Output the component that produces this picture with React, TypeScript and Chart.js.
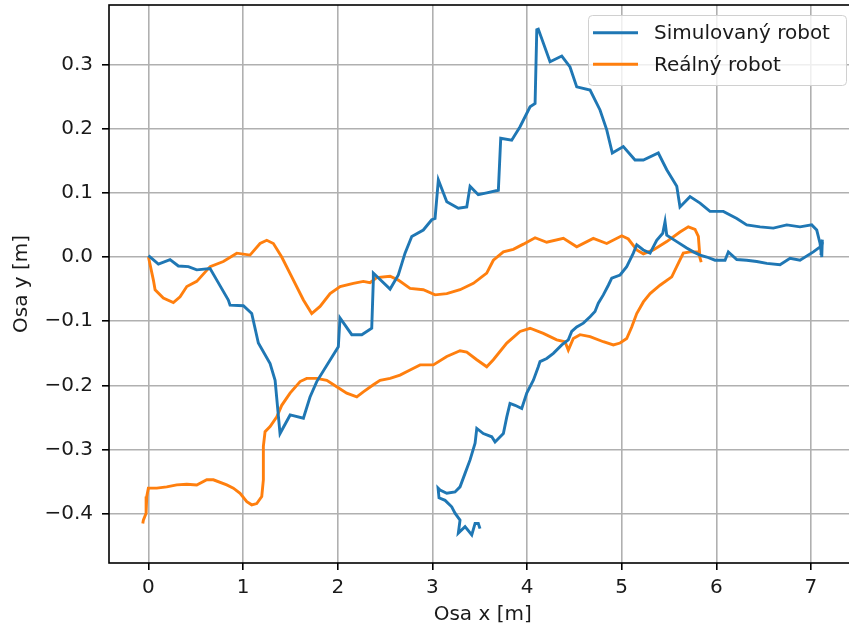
import React, { useEffect, useRef } from 'react';
import { Chart, registerables } from 'chart.js';
Chart.register(...registerables);

const seriesLabels = ['Simulovaný robot', 'Reálný robot'];
const seriesColors = ['#1f77b4', '#ff7f0e'];

const simX = [0.0, 0.105, 0.228, 0.316, 0.422, 0.51, 0.651, 0.722, 0.844, 0.862, 1.003, 1.091, 1.161, 1.285, 1.338, 1.39, 1.497, 1.637, 1.707, 1.778, 2.006, 2.024, 2.148, 2.254, 2.359, 2.376, 2.376, 2.553, 2.64, 2.711, 2.782, 2.904, 2.993, 3.028, 3.063, 3.152, 3.274, 3.363, 3.398, 3.485, 3.574, 3.697, 3.722, 3.838, 3.926, 4.032, 4.085, 4.103, 4.119, 4.243, 4.367, 4.454, 4.525, 4.666, 4.771, 4.842, 4.901, 5.017, 5.141, 5.229, 5.387, 5.476, 5.582, 5.616, 5.722, 5.828, 5.933, 6.074, 6.216, 6.321, 6.462, 6.602, 6.744, 6.884, 7.008, 7.061, 7.096, 7.114, 7.12, 7.105, 7.118, 7.025, 6.884, 6.779, 6.673, 6.533, 6.427, 6.321, 6.216, 6.127, 6.092, 5.986, 5.899, 5.828, 5.757, 5.687, 5.582, 5.476, 5.458, 5.434, 5.37, 5.3, 5.229, 5.159, 5.123, 5.053, 4.983, 4.895, 4.859, 4.806, 4.753, 4.718, 4.666, 4.595, 4.525, 4.472, 4.436, 4.367, 4.278, 4.208, 4.137, 4.119, 4.067, 3.997, 3.944, 3.873, 3.82, 3.786, 3.75, 3.662, 3.627, 3.538, 3.469, 3.451, 3.398, 3.345, 3.292, 3.239, 3.152, 3.081, 3.06, 3.07, 3.134, 3.204, 3.239, 3.292, 3.274, 3.345, 3.416, 3.451, 3.485, 3.503];
const simY = [0.002, -0.011, -0.004, -0.014, -0.015, -0.02, -0.018, -0.036, -0.067, -0.075, -0.076, -0.088, -0.134, -0.166, -0.192, -0.275, -0.246, -0.251, -0.218, -0.194, -0.14, -0.095, -0.121, -0.121, -0.111, -0.036, -0.025, -0.05, -0.028, 0.006, 0.032, 0.042, 0.058, 0.06, 0.12, 0.086, 0.076, 0.078, 0.11, 0.097, 0.1, 0.104, 0.185, 0.182, 0.203, 0.234, 0.239, 0.354, 0.355, 0.304, 0.313, 0.296, 0.265, 0.26, 0.229, 0.198, 0.162, 0.172, 0.151, 0.151, 0.162, 0.136, 0.11, 0.078, 0.094, 0.084, 0.071, 0.071, 0.06, 0.05, 0.047, 0.045, 0.05, 0.047, 0.05, 0.042, 0.021, 0.0, 0.027, 0.003, 0.018, 0.008, -0.005, -0.002, -0.012, -0.01, -0.007, -0.005, -0.004, 0.008, -0.005, -0.005, 0.0, 0.003, 0.008, 0.014, 0.024, 0.034, 0.055, 0.037, 0.026, 0.006, 0.011, 0.019, 0.006, -0.015, -0.028, -0.033, -0.044, -0.059, -0.072, -0.085, -0.093, -0.103, -0.109, -0.116, -0.129, -0.137, -0.15, -0.158, -0.163, -0.171, -0.192, -0.212, -0.236, -0.231, -0.228, -0.249, -0.275, -0.288, -0.28, -0.275, -0.267, -0.29, -0.316, -0.337, -0.358, -0.366, -0.368, -0.363, -0.36, -0.375, -0.379, -0.389, -0.399, -0.41, -0.43, -0.42, -0.433, -0.415, -0.415, -0.423];

const realX = [0.0, 0.052, 0.07, 0.157, 0.263, 0.334, 0.405, 0.51, 0.651, 0.791, 0.933, 1.073, 1.179, 1.25, 1.32, 1.408, 1.514, 1.637, 1.725, 1.813, 1.919, 2.025, 2.165, 2.27, 2.341, 2.412, 2.553, 2.64, 2.764, 2.904, 3.028, 3.152, 3.292, 3.433, 3.574, 3.644, 3.75, 3.855, 3.961, 4.085, 4.208, 4.384, 4.525, 4.7, 4.842, 5.001, 5.07, 5.159, 5.229, 5.334, 5.476, 5.616, 5.704, 5.775, 5.81, 5.828, 5.84, 5.81, 5.722, 5.651, 5.598, 5.529, 5.405, 5.3, 5.229, 5.159, 5.106, 5.053, 4.983, 4.912, 4.806, 4.666, 4.56, 4.489, 4.436, 4.401, 4.314, 4.172, 4.032, 3.926, 3.786, 3.644, 3.574, 3.469, 3.363, 3.292, 3.152, 3.01, 2.87, 2.764, 2.658, 2.553, 2.447, 2.376, 2.27, 2.201, 2.095, 1.989, 1.884, 1.778, 1.672, 1.602, 1.496, 1.408, 1.356, 1.285, 1.232, 1.214, 1.214, 1.197, 1.144, 1.091, 1.039, 0.968, 0.897, 0.827, 0.686, 0.616, 0.51, 0.405, 0.299, 0.193, 0.088, -0.001, -0.018, -0.025, -0.054, -0.06];
const realY = [0.0, -0.036, -0.051, -0.064, -0.071, -0.062, -0.046, -0.038, -0.015, -0.007, 0.006, 0.003, 0.021, 0.026, 0.021, 0.0, -0.031, -0.067, -0.088, -0.077, -0.057, -0.046, -0.041, -0.038, -0.04, -0.032, -0.03, -0.036, -0.049, -0.051, -0.059, -0.057, -0.051, -0.041, -0.025, -0.005, 0.008, 0.012, 0.02, 0.03, 0.023, 0.029, 0.016, 0.029, 0.021, 0.033, 0.028, 0.011, 0.005, 0.011, 0.024, 0.039, 0.047, 0.043, 0.032, -0.002, -0.008, 0.008, 0.008, 0.006, -0.01, -0.031, -0.044, -0.057, -0.07, -0.088, -0.109, -0.127, -0.134, -0.137, -0.132, -0.124, -0.121, -0.127, -0.145, -0.132, -0.129, -0.119, -0.111, -0.116, -0.134, -0.16, -0.171, -0.16, -0.148, -0.146, -0.155, -0.168, -0.168, -0.176, -0.184, -0.189, -0.192, -0.199, -0.21, -0.218, -0.212, -0.202, -0.192, -0.189, -0.189, -0.194, -0.212, -0.231, -0.249, -0.264, -0.272, -0.295, -0.347, -0.373, -0.384, -0.386, -0.381, -0.368, -0.36, -0.355, -0.347, -0.347, -0.355, -0.354, -0.355, -0.358, -0.36, -0.36, -0.373, -0.399, -0.41, -0.415];

const xTicks = [0, 1, 2, 3, 4, 5, 6, 7];
const yTicks = [-0.4, -0.3, -0.2, -0.1, 0.0, 0.1, 0.2, 0.3];
const xLimits = [-0.417, 7.48];
const yLimits = [-0.4766, 0.3925];
const xTitle = 'Osa x [m]';
const yTitle = 'Osa y [m]';

const FONT = 'DejaVu Sans';
const TEXT = '#1a1a1a';

const fmtY = (v: number) => {
  const s = Math.abs(v).toFixed(1);
  return v < -1e-9 ? '\u2212' + s : s;
};

const framePlugin = {
  id: 'frame',
  afterDatasetsDraw(chart: any) {
    const { ctx, chartArea: a } = chart;
    ctx.save();
    ctx.strokeStyle = '#000';
    ctx.lineWidth = 1.6;
    ctx.strokeRect(a.left, a.top, a.right - a.left, a.bottom - a.top);
    ctx.restore();
  },
};

const legendPlugin = {
  id: 'mplLegend',
  afterDraw(chart: any) {
    const ctx = chart.ctx;
    ctx.save();
    const x0 = 588.5, y0 = 15.5, w = 258, h = 70, r = 4;
    ctx.beginPath();
    ctx.moveTo(x0 + r, y0);
    ctx.lineTo(x0 + w - r, y0);
    ctx.quadraticCurveTo(x0 + w, y0, x0 + w, y0 + r);
    ctx.lineTo(x0 + w, y0 + h - r);
    ctx.quadraticCurveTo(x0 + w, y0 + h, x0 + w - r, y0 + h);
    ctx.lineTo(x0 + r, y0 + h);
    ctx.quadraticCurveTo(x0, y0 + h, x0, y0 + h - r);
    ctx.lineTo(x0, y0 + r);
    ctx.quadraticCurveTo(x0, y0, x0 + r, y0);
    ctx.closePath();
    ctx.fillStyle = 'rgba(255,255,255,0.8)';
    ctx.fill();
    ctx.strokeStyle = '#d0d0d0';
    ctx.lineWidth = 1;
    ctx.stroke();
    chart.data.datasets.forEach((ds: any, i: number) => {
      const y = 32.7 + i * 31.6;
      ctx.beginPath();
      ctx.moveTo(593, y);
      ctx.lineTo(638, y);
      ctx.strokeStyle = ds.borderColor;
      ctx.lineWidth = 2.9;
      ctx.stroke();
      ctx.fillStyle = TEXT;
      ctx.font = `20px "${FONT}"`;
      ctx.textBaseline = 'middle';
      ctx.textAlign = 'left';
      ctx.fillText(ds.label, 654, y + 1);
    });
    ctx.restore();
  },
};

export default function App() {
  const ref = useRef<HTMLCanvasElement>(null);
  useEffect(() => {
    if (!ref.current) return;
    Chart.defaults.font.family = FONT;
    Chart.defaults.color = TEXT;
    const chart = new Chart(ref.current, {
      type: 'scatter',
      data: {
        datasets: [
          {
            label: seriesLabels[0],
            data: simX.map((x, i) => ({ x, y: simY[i] })),
            showLine: true,
            borderColor: seriesColors[0],
            backgroundColor: seriesColors[0],
            borderWidth: 2.9,
            pointRadius: 0,
            tension: 0,
          },
          {
            label: seriesLabels[1],
            data: realX.map((x, i) => ({ x, y: realY[i] })),
            showLine: true,
            borderColor: seriesColors[1],
            backgroundColor: seriesColors[1],
            borderWidth: 2.9,
            pointRadius: 0,
            tension: 0,
          },
        ],
      },
      options: {
        responsive: false,
        animation: false,
        events: [],
        devicePixelRatio: 1,
        layout: { padding: { left: 0, top: 5, right: 3.6, bottom: 0 } },
        plugins: { legend: { display: false }, tooltip: { enabled: false } },
        scales: {
          x: {
            type: 'linear',
            min: xLimits[0],
            max: xLimits[1],
            afterBuildTicks: (s: any) => { s.ticks = xTicks.map((v) => ({ value: v })); },
            afterFit: (s: any) => { s.height = 68; s.paddingLeft = 0; s.paddingRight = 0; },
            ticks: { font: { size: 20 }, color: TEXT, padding: 6, maxRotation: 0, callback: (v: any) => String(v) },
            grid: { color: '#b0b0b0', lineWidth: 1.6, tickColor: '#000', tickLength: 7, tickWidth: 1.6 },
            border: { display: false },
            title: { display: true, text: xTitle, font: { size: 20 }, color: TEXT, padding: { top: 0, bottom: 4 } },
          },
          y: {
            type: 'linear',
            min: yLimits[0],
            max: yLimits[1],
            afterBuildTicks: (s: any) => { s.ticks = yTicks.map((v) => ({ value: v })); },
            afterFit: (s: any) => { s.width = 109; s.paddingTop = 0; s.paddingBottom = 0; },
            ticks: { font: { size: 20 }, color: TEXT, padding: 9, callback: (v: any) => fmtY(Number(v)) },
            grid: { color: '#b0b0b0', lineWidth: 1.6, tickColor: '#000', tickLength: 7, tickWidth: 1.6 },
            border: { display: false },
            title: { display: true, text: yTitle, font: { size: 20 }, color: TEXT, padding: { top: 10, bottom: 0 } },
          },
        },
      },
      plugins: [framePlugin, legendPlugin],
    } as any);
    return () => chart.destroy();
  }, []);
  return (
    <div style={{ position: 'fixed', left: 0, top: 0, width: 849, height: 631, overflow: 'hidden', background: '#fff' }}>
      <canvas ref={ref} width={860} height={631} style={{ display: 'block' }} />
    </div>
  );
}
